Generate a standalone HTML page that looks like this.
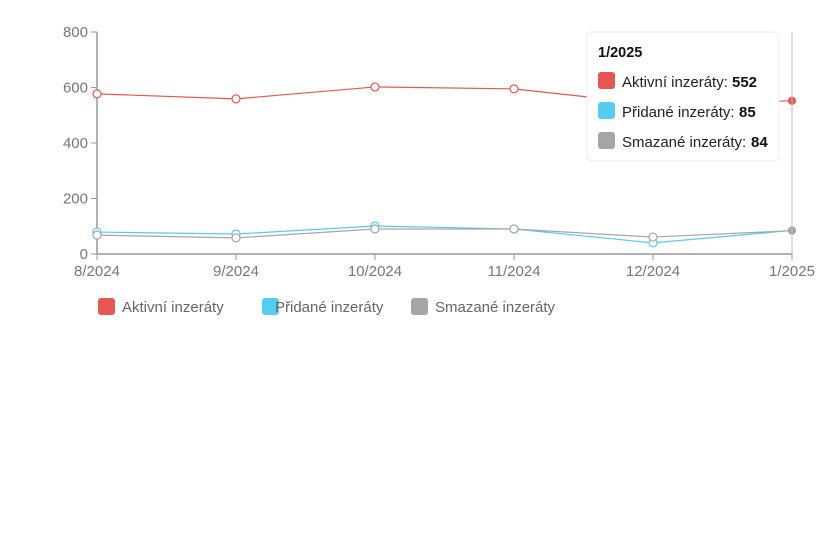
<!DOCTYPE html>
<html><head><meta charset="utf-8"><style>
body{margin:0;background:#fff;width:837px;height:533px;overflow:hidden;font-family:"Liberation Sans",sans-serif}
svg text{font-family:"Liberation Sans",sans-serif}
</style></head><body>
<svg id="chart" width="837" height="533">
<g id="axes"></g><g id="series"></g>
<line x1="792" y1="32" x2="792" y2="254" stroke="#bbb" stroke-width="1"/>
<g>
<rect x="587" y="32" width="192" height="129" rx="5" fill="#fff" stroke="#eee"/>
<text x="598" y="57" font-size="14.5" font-weight="bold" fill="#111">1/2025</text>
<rect x="598" y="72" width="17" height="17" rx="3" fill="#e85555"/>
<text x="622" y="87" font-size="15" fill="#222">Aktivní inzeráty:</text><text x="732" y="87" font-size="15" font-weight="bold" fill="#111">552</text>
<rect x="598" y="102" width="17" height="17" rx="3" fill="#56ccf0"/>
<text x="622" y="117" font-size="15" fill="#222">Přidané inzeráty:</text><text x="739" y="117" font-size="15" font-weight="bold" fill="#111">85</text>
<rect x="598" y="132" width="17" height="17" rx="3" fill="#a6a6a6"/>
<text x="622" y="147" font-size="15" fill="#222">Smazané inzeráty:</text><text x="751" y="147" font-size="15" font-weight="bold" fill="#111">84</text>
</g>
<g>
<g><rect x="98" y="298" width="17" height="17" rx="3" fill="#e85555"/><text x="122" y="312" font-size="15" fill="#666">Aktivní inzeráty</text></g>
<g><rect x="251" y="298" width="17" height="17" rx="3" fill="#56ccf0" transform="translate(11,0)"/><text x="286" y="312" font-size="15" fill="#666" transform="translate(-11,0)">Přidané inzeráty</text></g>
<g><rect x="411" y="298" width="17" height="17" rx="3" fill="#a6a6a6"/><text x="435" y="312" font-size="15" fill="#666">Smazané inzeráty</text></g>
</g>
</svg>
<script>
const categories=["8/2024","9/2024","10/2024","11/2024","12/2024","1/2025"];
const aktivni=[577,559,602,595,540,552];
const pridane=[79,72,101,90,40,85];
const smazane=[68,58,90,90,61,84];
const yTicks=[0,200,400,600,800];
const NS="http://www.w3.org/2000/svg";
const x=i=>97+i*139;
const y=v=>254-v*(222/800);
function mk(t,a,p){const e=document.createElementNS(NS,t);for(const k in a)e.setAttribute(k,a[k]);p.appendChild(e);return e;}
const ax=document.getElementById('axes');
const yl=mk('line',{x1:97,y1:32,x2:97,y2:254,stroke:'#999','stroke-width':1.5},ax);


const xl=mk('line',{x1:97,y1:254,x2:792,y2:254,stroke:'#999','stroke-width':1.5},ax);


yTicks.forEach(v=>{
 mk('line',{x1:91,y1:y(v),x2:97,y2:y(v),stroke:'#999'},ax);
 const t=mk('text',{x:88,y:y(v)+5,'text-anchor':'end','font-size':15,fill:'#777'},ax);t.textContent=v;
 
 
});
categories.forEach((c,i)=>{
 mk('line',{x1:x(i),y1:254,x2:x(i),y2:260,stroke:'#999'},ax);
 const t=mk('text',{x:x(i),y:276,'text-anchor':'middle','font-size':15,fill:'#777'},ax);t.textContent=c;
 
 
});
const sg=document.getElementById('series');
[[pridane,'#56ccf0','pridane'],[smazane,'#a6a6a6','smazane'],[aktivni,'#e85555','aktivni']].forEach(([d,col,n])=>{
 const p=mk('polyline',{points:d.map((v,i)=>x(i)+','+y(v)).join(' '),fill:'none',stroke:col,'stroke-width':1.2},sg);
 
 
 d.forEach((v,i)=>{
  const last=i===d.length-1;
  const c=mk('circle',{cx:x(i),cy:y(v),r:last?3.5:4,fill:last?col:'#fff',stroke:col,'stroke-width':1.2},sg);
  
  
 });
});
</script>
</body></html>
